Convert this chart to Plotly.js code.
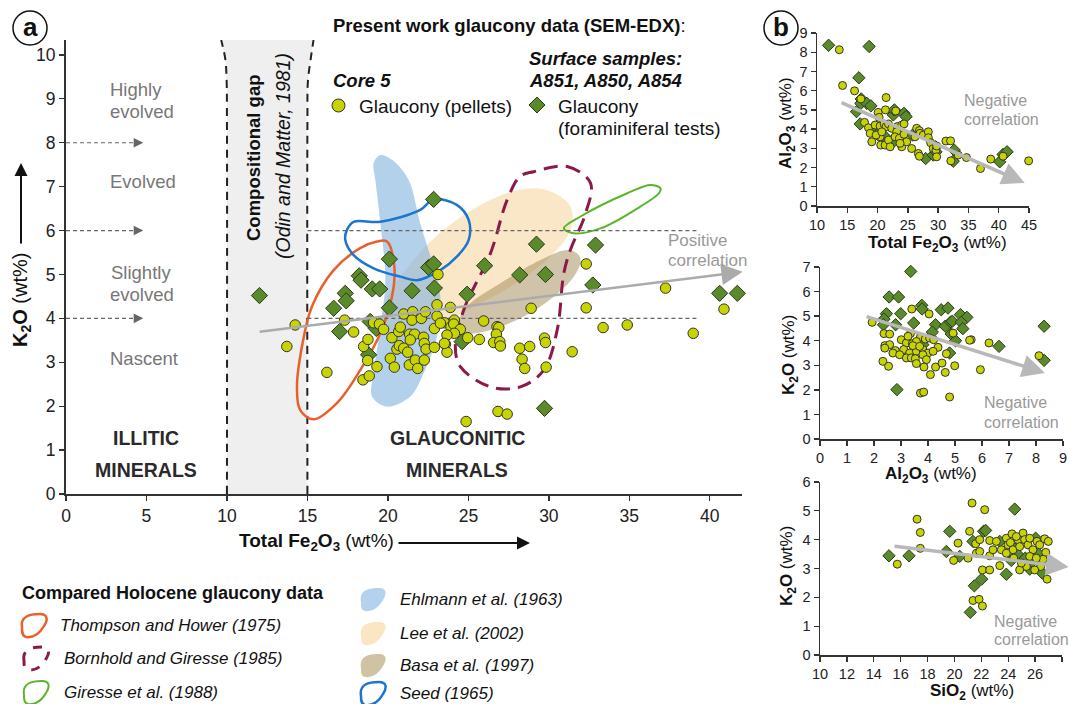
<!DOCTYPE html>
<html><head><meta charset="utf-8">
<script src="https://cdn.plot.ly/plotly-3.0.1.min.js"></script>
<style>html,body{margin:0;padding:0;background:#fff}#chart{width:1069px;height:704px}</style>
</head><body><div id="chart"></div>
<script>
// ---------- DATA: panel a (Total Fe2O3 vs K2O) ----------
const pelletFe = [14.24,13.72,16.21,17.31,17.87,18.49,18.76,18.74,19.32,18.45,18.84,19.11,19.47,19.73,20.15,20.40,20.25,20.67,20.77,20.56,20.71,20.98,20.98,21.54,21.50,21.35,21.66,21.39,21.23,21.33,21.70,21.85,22.08,22.33,22.22,22.26,22.37,22.89,22.26,22.89,23.05,23.05,23.88,23.11,23.51,23.26,23.92,24.13,24.09,24.50,24.13,23.67,23.57,23.67,23.51,24.96,25.68,25.95,26.78,26.89,26.74,26.57,26.95,26.99,28.90,28.19,28.81,28.34,28.50,29.73,29.79,29.83,31.45,26.84,27.41,24.86,32.32,32.32,37.25,40.88,33.37,34.87,38.97];
const pelletK2O = [3.85,3.36,2.77,3.96,3.69,3.36,3.52,3.04,2.90,2.60,2.69,3.90,3.87,3.75,3.09,2.89,3.56,3.70,3.80,3.30,3.38,3.32,4.10,4.15,3.96,3.64,3.64,3.51,3.23,2.94,3.05,2.86,4.00,4.15,3.57,3.43,3.30,3.34,3.05,3.77,4.05,4.31,4.25,5.00,3.90,3.89,3.81,3.96,3.87,3.75,3.66,3.62,3.41,3.23,3.43,3.56,3.52,3.94,3.81,3.79,3.64,3.45,3.47,3.37,4.23,3.32,3.36,3.07,2.86,3.55,3.45,2.89,3.24,1.88,1.82,1.65,5.24,4.24,4.69,4.21,3.79,3.85,3.66];
const foramFe = [12.02,20.09,18.22,18.33,19.03,19.49,17.35,17.41,16.63,20.09,21.50,17.00,18.90,19.28,18.80,22.84,22.53,22.84,22.89,24.92,26.01,29.23,28.19,29.79,24.61,29.73,32.90,32.73,40.61,41.71];
const foramK2O = [4.52,5.35,4.97,4.87,4.67,4.67,4.57,4.40,4.23,4.24,4.63,3.70,3.93,3.77,3.17,6.71,5.16,5.24,4.69,4.55,5.20,5.69,4.99,5.00,3.47,1.95,5.67,4.76,4.57,4.57];

// compared Holocene glaucony fields (Total Fe2O3, K2O outlines)
const thompsonX = [19.94,20.40,20.25,19.53,18.28,16.83,15.38,14.55,14.35,14.66,15.28,16.63,18.28,19.32,19.94];
const thompsonY = [5.75,5.18,4.49,3.66,2.82,2.07,1.70,1.91,2.44,3.36,4.27,5.10,5.60,5.75,5.75];
const seedX = [17.45,17.87,19.53,22.01,22.84,24.30,25.02,25.02,24.30,23.26,21.81,20.77,19.11,17.87,17.35,17.45];
const seedY = [6.01,6.20,6.20,6.47,6.71,6.58,6.24,5.79,5.41,5.10,4.87,4.95,5.14,5.44,5.79,6.01];
const ehlmannX = [19.53,20.30,21.29,22.00,22.90,23.26,23.05,22.22,21.39,19.94,19.01,19.11,19.53,19.84,19.53,19.22,19.11,19.53];
const ehlmannY = [7.72,7.60,7.15,6.17,5.10,4.49,3.58,2.75,2.22,1.99,2.22,2.75,3.81,4.87,6.17,7.15,7.53,7.72];
const leeX = [31.34,29.90,28.03,25.95,23.46,21.60,19.73,19.94,21.19,22.64,24.92,27.61,30.10,31.34,31.34];
const leeY = [6.55,6.92,6.92,6.62,6.01,5.33,4.27,3.58,3.51,3.74,4.19,4.72,5.41,6.01,6.55];
const basaX = [31.76,31.14,29.48,26.99,24.92,24.30,24.92,26.99,29.48,31.55,31.97,31.76];
const basaY = [5.48,5.56,5.33,4.80,4.27,3.81,3.66,3.81,4.27,4.95,5.33,5.48];
const bornholdX = [29.06,31.14,32.59,32.28,31.34,30.93,30.52,29.68,28.23,26.37,24.50,24.19,24.71,26.37,27.41,28.23,29.06];
const bornholdY = [7.34,7.46,7.08,6.39,5.56,5.03,3.74,2.82,2.44,2.44,2.90,3.36,4.19,5.48,6.70,7.24,7.34];
const giresseX = [36.94,36.32,34.87,31.97,30.93,31.55,33.21,35.70,36.84,36.94];
const giresseY = [6.96,7.04,6.85,6.32,6.05,5.94,6.05,6.55,6.85,6.96];
// compositional gap (Odin and Matter, 1981)
const gapLeftX = [10,10,9.98,9.9,9.64];
const gapRightX = [15,15,15.03,15.2,15.38];
const gapEdgeY = [0,8.5,9.4,9.9,10.34];
// maturity thresholds and correlation trend
const maturityK2O = [4,6,8];
const trendFe = [11.94,42.04];
const trendK2O = [3.69,5.06];

// ---------- DATA: panel b ----------
const b1PelletFe = [13.68,14.22,16.2,21.41,17.24,21.3,20.09,23.0,20.26,17.84,18.5,19.05,19.6,20.42,21.08,21.41,21.8,22.34,23.27,23.99,24.37,20.42,20.53,21.25,21.8,22.07,23.16,22.89,23.6,23.99,24.81,24.37,25.63,26.18,26.46,26.9,27.0,27.55,28.38,28.38,26.73,26.9,28.76,29.2,29.64,29.75,29.75,31.28,32.05,32.1,33.3,34.68,36.99,38.69,40.72,44.94,18.78,19.76,20.7,23.71];
const b1PelletAl = [8.13,6.27,5.99,5.64,5.57,5.0,4.87,4.94,4.61,4.35,4.07,3.34,4.21,4.16,4.27,4.13,4.27,4.04,4.13,4.21,4.27,3.6,3.17,3.17,3.43,3.08,3.86,3.6,3.52,3.08,3.34,3.73,2.99,3.6,4.04,3.92,3.78,3.69,3.86,3.55,2.73,2.59,3.29,2.99,2.91,3.12,2.56,3.38,3.39,2.35,2.65,2.52,1.95,2.44,2.59,2.35,3.78,3.69,3.86,3.26];
const b1ForamFe = [11.92,18.61,16.91,16.53,17.3,17.24,18.23,18.89,17.13,19.6,19.98,22.6,22.78,24.37,24.7,21.25,22.6,25.8,27.94,29.2,29.58,29.64,32.65,32.49,40.17,40.72,41.38];
const b1ForamAl = [8.36,8.30,6.67,4.91,5.57,5.34,5.34,5.21,4.27,3.86,3.73,4.74,5.0,4.82,4.65,3.6,3.34,3.69,2.47,2.65,3.08,2.82,2.91,2.33,2.30,2.68,2.82];
const b2PelletAl = [1.93,3.4,4.04,2.37,2.58,3.35,3.72,2.4,2.58,3.01,3.2,3.42,3.57,3.9,4.06,4.21,4.37,2.4,2.79,3.1,3.32,3.57,3.81,4.0,4.19,2.7,2.95,3.2,3.38,3.53,3.81,3.94,3.57,3.85,4.28,4.09,2.33,2.54,4.52,4.64,4.99,4.68,4.93,5.6,5.54,6.26,5.94,8.11,3.72,3.84,4.8,3.44,3.69,3.26];
const b2PelletK = [4.75,5.29,5.09,4.29,4.27,4.29,4.15,3.8,3.84,4.04,3.91,3.88,3.97,4.07,4.11,4.04,3.73,3.7,3.6,3.64,3.5,3.57,3.64,3.5,3.57,3.5,3.43,3.3,3.3,3.27,3.43,3.23,3.07,2.93,2.93,2.62,3.16,2.96,3.09,2.71,2.98,3.47,4.31,4.04,4.02,3.91,2.82,3.39,1.87,1.91,1.71,3.8,3.77,4.18];
const b2ForamAl = [3.36,2.56,2.91,3.77,3.78,4.49,4.74,2.46,2.99,2.37,3.47,2.35,2.8,4.28,4.64,4.84,4.9,5.2,5.44,5.23,5.29,4.16,4.86,5.02,3.81,4.8,6.63,8.3,8.3,2.85];
const b2ForamK = [6.82,5.78,5.78,5.44,5.29,5.26,5.33,5.10,5.10,4.88,4.72,4.65,4.65,4.65,4.59,4.76,4.79,5.06,4.95,4.75,4.49,4.35,4.27,4.0,3.84,3.5,3.77,4.59,3.2,2.01];
const b3PelletSi = [21.31,22.25,17.22,17.46,17.46,15.75,19.94,20.27,21.13,21.58,21.88,22.62,21.63,21.88,22.62,22.08,22.62,21.01,21.38,21.83,22.08,23.37,22.87,23.12,23.49,23.86,23.98,24.28,24.16,24.36,24.73,24.85,25.1,25.22,25.47,25.6,25.84,26.14,26.34,26.71,26.98,26.79,26.89,26.59,26.41,25.97,25.35,24.85,24.98,24.41,25.6,26.09,24.6,23.86];
const b3PelletK = [5.27,5.04,4.71,4.25,3.7,3.15,3.28,3.88,4.29,3.86,4.0,3.97,3.53,3.59,3.44,2.95,2.95,3.36,1.89,1.93,1.7,3.1,3.65,3.94,3.65,4.05,3.82,4.2,3.9,3.65,4.0,3.76,4.23,4.0,3.82,4.05,3.65,3.94,3.82,4.03,3.94,3.56,2.63,3.32,3.07,2.95,3.07,2.95,3.19,3.36,3.42,3.36,4.11,3.53];
const b3ForamSi = [15.13,16.62,19.4,19.65,20.39,21.38,22.17,22.32,21.48,22.03,21.18,23.86,24.48,23.37,24.51,24.73,25.27,25.6,26.04,26.2,25.79,26.54,24.23];
const b3ForamK = [3.44,3.44,3.59,4.29,3.42,3.94,4.29,4.32,2.4,2.63,1.48,2.8,5.06,3.94,3.67,3.48,3.36,2.98,4.05,3.53,3.24,2.84,3.28];
// negative correlation trends
const b1TrendFe = [13.8,44.3], b1TrendAl = [5.41,1.2];
const b2TrendAl = [1.67,8.33], b2TrendK = [5.0,2.69];
const b3TrendSi = [15.43,28.5], b3TrendK = [3.78,3.05];

// tick labels
const mainXTicks = [0,5,10,15,20,25,30,35,40];
const mainYTicks = [0,1,2,3,4,5,6,7,8,9,10];
const b1XTicks = [10,15,20,25,30,35,40,45], b1YTicks = [0,1,2,3,4,5,6,7,8,9];
const b2XTicks = [0,1,2,3,4,5,6,7,8,9], b2YTicks = [0,1,2,3,4,5,6,7];
const b3XTicks = [10,12,14,16,18,20,22,24,26,28], b3YTicks = [0,1,2,3,4,5,6];

// ---------- helpers ----------
const W = 1069, H = 704;
const px = x => x / W, py = y => 1 - y / H;
const FONT = 'Liberation Sans, Arial, sans-serif';
const PELLET = '#c8d400', FORAM = '#5b8a2d';
function toPaperPath(s){return s.replace(/(-?[\d.]+),(-?[\d.]+)/g,(m,a,b)=>(a/W).toFixed(5)+','+(1-b/H).toFixed(5));}
function blob(cx,cy){
  const t=[[-11,3],[-13,-9],[-3,-11],[7,-11],[15,-11],[15,-5],[11,1],[7,8],[1,13],[-7,12],[-11,11],[-11,7],[-11,3]];
  const p=t.map(([a,b])=>(cx+a)+','+(cy+b));
  return toPaperPath('M'+p[0]+' C'+p[1]+' '+p[2]+' '+p[3]+' C'+p[4]+' '+p[5]+' '+p[6]+' C'+p[7]+' '+p[8]+' '+p[9]+' C'+p[10]+' '+p[11]+' '+p[12]+' Z');
}
function T(text,x,y,o){o=o||{};return Object.assign({text:text,x:px(x),y:py(y),xref:'paper',yref:'paper',showarrow:false,xanchor:'center',yanchor:'middle',font:{family:FONT,size:18,color:'#111'}},o);}

// ---------- traces ----------
const traces = [];
traces.push({x:gapLeftX.concat(gapRightX.slice().reverse()),y:gapEdgeY.concat(gapEdgeY.slice().reverse()),mode:'none',fill:'toself',fillcolor:'#efefef',xaxis:'x',yaxis:'y',hoverinfo:'skip'});
traces.push({x:gapLeftX,y:gapEdgeY,mode:'lines',line:{color:'#222',width:2,dash:'8px,6px',shape:'spline'},xaxis:'x',yaxis:'y'});
traces.push({x:gapRightX,y:gapEdgeY,mode:'lines',line:{color:'#222',width:2,dash:'8px,6px',shape:'spline'},xaxis:'x',yaxis:'y'});
traces.push({x:leeX,y:leeY,mode:'lines',line:{width:0,shape:'spline',smoothing:1},fill:'toself',fillcolor:'rgba(245,208,145,0.5)',xaxis:'x',yaxis:'y'});
traces.push({x:basaX,y:basaY,mode:'lines',line:{width:0,shape:'spline',smoothing:1},fill:'toself',fillcolor:'rgba(160,135,85,0.5)',xaxis:'x',yaxis:'y'});
traces.push({x:ehlmannX,y:ehlmannY,mode:'lines',line:{width:0,shape:'spline',smoothing:1},fill:'toself',fillcolor:'rgba(125,175,222,0.58)',xaxis:'x',yaxis:'y'});
traces.push({x:thompsonX,y:thompsonY,mode:'lines',line:{color:'#e8602c',width:2.5,shape:'spline',smoothing:1},xaxis:'x',yaxis:'y'});
traces.push({x:seedX,y:seedY,mode:'lines',line:{color:'#1c75cf',width:2.5,shape:'spline',smoothing:1},xaxis:'x',yaxis:'y'});
traces.push({x:bornholdX,y:bornholdY,mode:'lines',line:{color:'#8b1a4a',width:3,dash:'14px,8px',shape:'spline',smoothing:1},xaxis:'x',yaxis:'y'});
traces.push({x:giresseX,y:giresseY,mode:'lines',line:{color:'#5ab52a',width:2,shape:'spline',smoothing:1},xaxis:'x',yaxis:'y'});
maturityK2O.forEach(k=>{
  traces.push({x:[0,4.4],y:[k,k],mode:'lines',line:{color:'#666',width:1.2,dash:'4px,3px'},xaxis:'x',yaxis:'y'});
});
[4,6].forEach(k=>{
  traces.push({x:[15,39.2],y:[k,k],mode:'lines',line:{color:'#666',width:1.2,dash:'4px,3px'},xaxis:'x',yaxis:'y'});
});
const mk = (x,y,sym,ax,ay,size) => ({x:x,y:y,mode:'markers',xaxis:ax,yaxis:ay,cliponaxis:false,
  marker:{symbol:sym,size:size,color:sym==='circle'?PELLET:FORAM,line:{color:sym==='circle'?'#333':'#2c3a14',width:1}}});
traces.push(mk(foramFe,foramK2O,'diamond','x','y',12.5));
traces.push(mk(pelletFe,pelletK2O,'circle','x','y',10.5));
traces.push(mk(b1ForamFe,b1ForamAl,'diamond','x2','y2',9.5));
traces.push(mk(b1PelletFe,b1PelletAl,'circle','x2','y2',8));
traces.push(mk(b2ForamAl,b2ForamK,'diamond','x3','y3',9.5));
traces.push(mk(b2PelletAl,b2PelletK,'circle','x3','y3',8));
traces.push(mk(b3ForamSi,b3ForamK,'diamond','x4','y4',9.5));
traces.push(mk(b3PelletSi,b3PelletK,'circle','x4','y4',8));

// ---------- axes ----------
function ax(domain,range,ticks,size,lw,anchor){
  return {domain:domain,range:range,tickvals:ticks,ticktext:ticks.map(String),showgrid:false,zeroline:false,showline:true,linecolor:'#333',linewidth:lw,
    ticks:'outside',ticklen:5,tickwidth:1.3,tickcolor:'#333',tickfont:{family:FONT,size:size,color:'#222'},anchor:anchor,fixedrange:true};
}
const layout = {
  width:W,height:H,margin:{l:0,r:0,t:0,b:0},paper_bgcolor:'#fff',plot_bgcolor:'rgba(0,0,0,0)',showlegend:false,
  xaxis:ax([66/W,742/W],[0,42],mainXTicks,17.5,2,'y'),
  yaxis:ax([1-494/H,1-40/H],[0,10.34],mainYTicks,17.5,2,'x'),
  xaxis2:ax([817/W,1029/W],[10,45],b1XTicks,14.5,1.5,'y2'),
  yaxis2:ax([1-206/H,1-33/H],[0,9],b1YTicks,14.5,1.5,'x2'),
  xaxis3:ax([820/W,1063/W],[0,9],b2XTicks,14.5,1.5,'y3'),
  yaxis3:ax([1-439/H,1-267/H],[0,7],b2YTicks,14.5,1.5,'x3'),
  xaxis4:ax([820/W,1062/W],[10,28],b3XTicks,14.5,1.5,'y4'),
  yaxis4:ax([1-655/H,1-482/H],[0,6],b3YTicks,14.5,1.5,'x4'),
  shapes:[],annotations:[]
};
const S = layout.shapes, A = layout.annotations;
// panel labels
S.push({type:'circle',xref:'paper',yref:'paper',x0:px(13),x1:px(47),y0:py(45),y1:py(11),line:{color:'#111',width:1.5}});
S.push({type:'circle',xref:'paper',yref:'paper',x0:px(764),x1:px(798),y0:py(45),y1:py(11),line:{color:'#111',width:1.5}});
A.push(T('<b>a</b>',30,27,{font:{family:FONT,size:26,color:'#111'}}));
A.push(T('<b>b</b>',781,27,{font:{family:FONT,size:26,color:'#111'}}));
// header legend
const hf = {family:FONT,size:18.5,color:'#111'};
A.push(T('<b>Present work glaucony data (SEM-EDX)</b>:',331,25,{xanchor:'left',font:hf}));
A.push(T('<b><i>Core 5</i></b>',331,80,{xanchor:'left',font:hf}));
A.push(T('<b><i>Surface samples:</i></b>',527,58,{xanchor:'left',font:hf}));
A.push(T('<b><i>A851, A850, A854</i></b>',527,80,{xanchor:'left',font:hf}));
S.push({type:'circle',xref:'paper',yref:'paper',x0:px(332),x1:px(345),y0:py(112),y1:py(99),fillcolor:PELLET,line:{color:'#333',width:1}});
S.push({type:'path',xref:'paper',yref:'paper',path:toPaperPath('M537,97 L545,105 L537,113 L529,105 Z'),fillcolor:FORAM,line:{color:'#2c3a14',width:1}});
const nf = {family:FONT,size:19,color:'#111'};
A.push(T('Glaucony (pellets)',357,106,{xanchor:'left',font:nf}));
A.push(T('Glaucony',556,106,{xanchor:'left',font:nf}));
A.push(T('(foraminiferal tests)',556,128,{xanchor:'left',font:nf}));
// maturity labels
const grey = {family:FONT,size:18.5,color:'#777'};
A.push(T('Highly',108,89,{xanchor:'left',font:grey}));
A.push(T('evolved',108,111,{xanchor:'left',font:grey}));
A.push(T('Evolved',108,181,{xanchor:'left',font:grey}));
A.push(T('Slightly',109,272,{xanchor:'left',font:grey}));
A.push(T('evolved',108,294,{xanchor:'left',font:grey}));
A.push(T('Nascent',108,358,{xanchor:'left',font:grey}));
maturityK2O.forEach(k=>A.push({x:4.8,y:k,xref:'x',yref:'y',ax:-10,ay:0,text:'',showarrow:true,arrowhead:2,arrowsize:1.6,arrowwidth:1.2,arrowcolor:'#666'}));
const bold = {family:FONT,size:19.5,color:'#2a2a2a'};
A.push(T('<b>ILLITIC</b>',146,438,{font:bold}));
A.push(T('<b>MINERALS</b>',146,470,{font:bold}));
A.push(T('<b>GLAUCONITIC</b>',457,438,{font:bold}));
A.push(T('<b>MINERALS</b>',457,470,{font:bold}));
A.push(T('<b>Compositional gap</b>',254,158,{textangle:-90,font:{family:FONT,size:18.5,color:'#111'}}));
A.push(T('<i>(Odin and Matter, 1981)</i>',283,156,{textangle:-90,font:{family:FONT,size:19.5,color:'#111'}}));
// positive correlation
A.push({x:trendFe[1],y:trendK2O[1],ax:trendFe[0],ay:trendK2O[0],xref:'x',yref:'y',axref:'x',ayref:'y',text:'',showarrow:true,arrowhead:2,arrowsize:1.7,arrowwidth:2.5,arrowcolor:'#ababab'});
const pg = {family:FONT,size:17,color:'#999'};
A.push(T('Positive',666,241,{xanchor:'left',font:pg}));
A.push(T('correlation',666,260,{xanchor:'left',font:pg}));
// axis titles panel a
A.push(T('<b>Total Fe<sub>2</sub>O<sub>3</sub></b> (wt%)',316,542,{font:{family:FONT,size:19,color:'#111'}}));
A.push({x:px(530),y:py(543),xref:'paper',yref:'paper',ax:-133,ay:0,text:'',showarrow:true,arrowhead:2,arrowsize:1.3,arrowwidth:2,arrowcolor:'#111'});
A.push(T('<b>K<sub>2</sub>O</b> (wt%)',21,300,{textangle:-90,font:{family:FONT,size:20,color:'#111'}}));
A.push({x:px(21),y:py(163),xref:'paper',yref:'paper',ax:0,ay:82,text:'',showarrow:true,arrowhead:2,arrowsize:1.3,arrowwidth:2,arrowcolor:'#111'});
// panel b titles
const tf = {family:FONT,size:17,color:'#111'};
A.push(T('<b>Total Fe<sub>2</sub>O<sub>3</sub></b> (wt%)',937,244,{font:tf}));
A.push(T('<b>Al<sub>2</sub>O<sub>3</sub></b> (wt%)',787,123,{textangle:-90,font:tf}));
A.push(T('<b>Al<sub>2</sub>O<sub>3</sub></b> (wt%)',931,475,{font:tf}));
A.push(T('<b>K<sub>2</sub>O</b> (wt%)',790,355,{textangle:-90,font:tf}));
A.push(T('<b>SiO<sub>2</sub></b> (wt%)',972,692,{font:tf}));
A.push(T('<b>K<sub>2</sub>O</b> (wt%)',788,566,{textangle:-90,font:tf}));
// negative correlations
const ng = {family:FONT,size:16,color:'#999'};
A.push({x:b1TrendFe[1],y:b1TrendAl[1],ax:b1TrendFe[0],ay:b1TrendAl[0],xref:'x2',yref:'y2',axref:'x2',ayref:'y2',text:'',showarrow:true,arrowhead:2,arrowsize:1.3,arrowwidth:3.5,arrowcolor:'#b8b8b8'});
A.push({x:b2TrendAl[1],y:b2TrendK[1],ax:b2TrendAl[0],ay:b2TrendK[0],xref:'x3',yref:'y3',axref:'x3',ayref:'y3',text:'',showarrow:true,arrowhead:2,arrowsize:1.3,arrowwidth:3.5,arrowcolor:'#b8b8b8'});
A.push({x:b3TrendSi[1],y:b3TrendK[1],ax:b3TrendSi[0],ay:b3TrendK[0],xref:'x4',yref:'y4',axref:'x4',ayref:'y4',text:'',showarrow:true,arrowhead:2,arrowsize:1.3,arrowwidth:3.5,arrowcolor:'#b8b8b8'});
A.push(T('Negative',962,100,{xanchor:'left',font:ng}));
A.push(T('correlation',962,120,{xanchor:'left',font:ng}));
A.push(T('Negative',982,403,{xanchor:'left',font:ng}));
A.push(T('correlation',982,422,{xanchor:'left',font:ng}));
A.push(T('Negative',992,621,{xanchor:'left',font:ng}));
A.push(T('correlation',992,639,{xanchor:'left',font:ng}));
// bottom legend
A.push(T('<b>Compared Holocene glaucony data</b>',20,593,{xanchor:'left',font:{family:FONT,size:18,color:'#111'}}));
const it = {family:FONT,size:17,color:'#111'};
const legItems = [
  ['Thompson and Hower (1975)',33,625,58,{line:{color:'#e8602c',width:2.5}}],
  ['Bornhold and Giresse (1985)',35,658,62,{line:{color:'#8b1a4a',width:3,dash:'dash'}}],
  ['Giresse et al. (1988)',35,692,62,{line:{color:'#5ab52a',width:2}}],
  ['Ehlmann et al. (1963)',372,599,398,{fillcolor:'#b4d2ed',line:{width:0}}],
  ['Lee et al. (2002)',372,633,398,{fillcolor:'#fae6c4',line:{width:0}}],
  ['Basa et al. (1997)',372,665,398,{fillcolor:'#cfc3a3',line:{width:0}}],
  ['Seed (1965)',372,693,398,{line:{color:'#1c75cf',width:2.5}}]
];
legItems.forEach(([t,x,y,tx,st])=>{
  S.push(Object.assign({type:'path',xref:'paper',yref:'paper',path:blob(x,y)},st));
  A.push(T('<i>'+t+'</i>',tx,y,{xanchor:'left',font:it}));
});
Plotly.newPlot('chart',traces,layout,{staticPlot:true,displayModeBar:false});
</script></body></html>
